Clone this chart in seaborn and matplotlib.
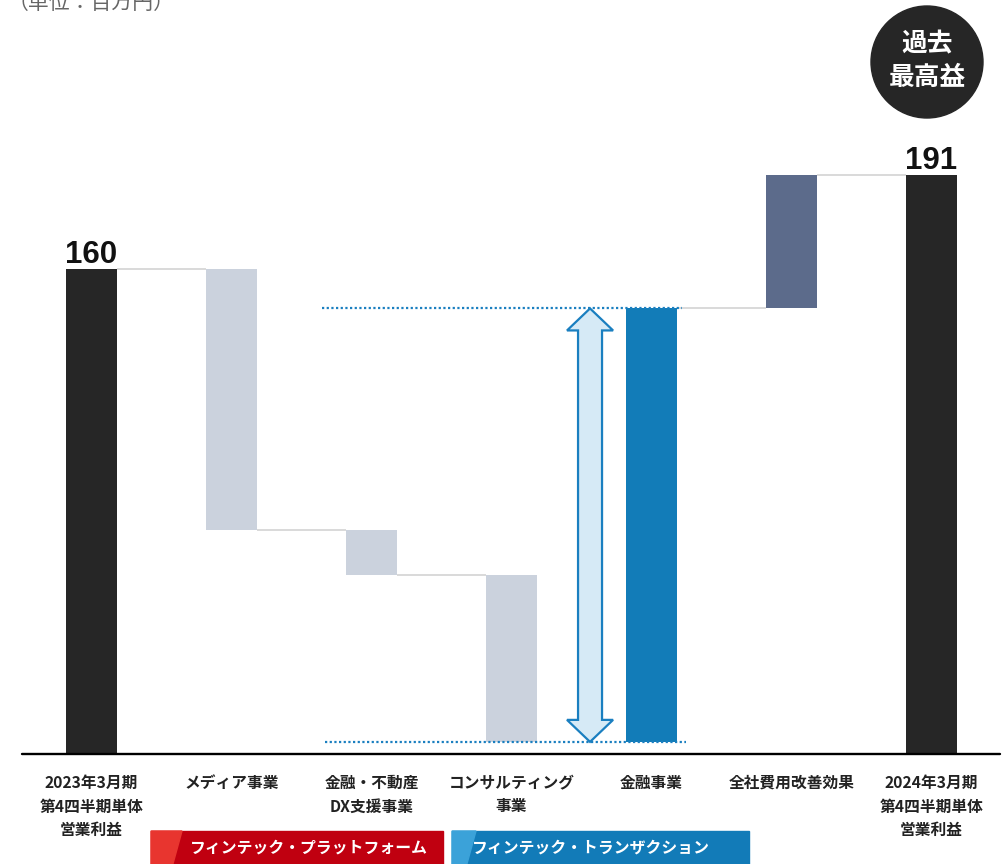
import numpy as np
import pandas as pd
import matplotlib
matplotlib.use("Agg")
import matplotlib.pyplot as plt
import matplotlib.transforms as mtrans
from matplotlib.patches import Polygon, Circle, Rectangle
import seaborn as sns

# ---------------- data ----------------
categories = [
    "2023年3月期\n第4四半期単体\n営業利益",
    "メディア事業",
    "金融・不動産\nDX支援事業",
    "コンサルティング\n事業",
    "金融事業",
    "全社費用改善効果",
    "2024年3月期\n第4四半期単体\n営業利益",
]
values = [160, -86, -15, -55, 143, 44, 191]
kinds = ["total", "delta", "delta", "delta", "delta", "delta", "total"]
bar_colors = ["#262626", "#cbd2dd", "#cbd2dd", "#cbd2dd", "#127cb8", "#5c6b8b", "#262626"]
highlight_idx = 4
unit_label = "（単位：百万円）"
badge_lines = ["過去", "最高益"]
segment_labels = ["フィンテック・プラットフォーム", "フィンテック・トランザクション"]

# ---------------- style ----------------
sns.set_theme(style="white")
plt.rcParams["font.family"] = ["Noto Sans CJK JP", "DejaVu Sans"]

# waterfall geometry from values
bottoms, tops, levels = [], [], []
running = 0
for v, k in zip(values, kinds):
    if k == "total":
        b, t = 0, v
        running = v
    else:
        start, end = running, running + v
        b, t = min(start, end), max(start, end)
        running = end
    bottoms.append(b)
    tops.append(t)
    levels.append(running)
heights = [t - b for t, b in zip(tops, bottoms)]

keys = [f"c{i}" for i in range(len(categories))]
df = pd.DataFrame({"key": keys, "height": heights})

W, H = 1002, 864
fig = plt.figure(figsize=(W / 100, H / 100), dpi=100)

ov = fig.add_axes([0, 0, 1, 1])
ov.set_xlim(0, W)
ov.set_ylim(H, 0)
ov.axis("off")

base_px = 754
px_per_unit = 3.031
ax = fig.add_axes([0, (H - base_px) / H, 1, base_px / H])

bar_w = 51 / 140
sns.barplot(data=df, x="key", y="height", hue="key", order=keys, hue_order=keys,
            palette=bar_colors, saturation=1, width=bar_w, legend=False,
            linewidth=0, ax=ax)
for i, cont in enumerate(ax.containers):
    for p in cont:
        p.set_y(bottoms[i])

ax.set_xlim(-91.5 / 140, (W - 91.5) / 140)
ax.set_ylim(0, base_px / px_per_unit)
ax.axis("off")

# baseline
ax.axhline(0, xmin=22 / W, xmax=1000 / W, color="black", lw=1.7, zorder=6, clip_on=False)

# connectors
for i in range(len(values) - 1):
    if i + 1 == highlight_idx:
        continue
    ax.plot([i + bar_w / 2, i + 1 - bar_w / 2], [levels[i], levels[i]],
            color="#d9d9d9", lw=1.4, zorder=1, solid_capstyle="butt")

# dotted guide lines around highlighted bar
lo = levels[highlight_idx - 1]
hi = levels[highlight_idx]
dot_kw = dict(color="#1a7fc0", lw=1.6, dashes=(1, 1.1), zorder=4, clip_on=False)
ax.plot([highlight_idx - 2.354, highlight_idx + 0.218], [hi, hi], **dot_kw)
ax.plot([highlight_idx - 2.332, highlight_idx + 0.246], [lo, lo], **dot_kw)

# double-headed arrow
ac = highlight_idx - 0.439
hw, sw = 0.1645, 0.0857
hl = 22 / px_per_unit
verts = [(ac, hi), (ac + hw, hi - hl), (ac + sw, hi - hl), (ac + sw, lo + hl),
         (ac + hw, lo + hl), (ac, lo), (ac - hw, lo + hl), (ac - sw, lo + hl),
         (ac - sw, hi - hl), (ac - hw, hi - hl)]
ax.add_patch(Polygon(verts, closed=True, facecolor="#d6eaf6", edgecolor="#1a7fc0",
                     lw=1.6, joinstyle="miter", zorder=5))

# total labels
for i, k in enumerate(kinds):
    if k == "total":
        ax.annotate(f"{values[i]}", (i, tops[i]), xytext=(0, 4.3), textcoords="offset points",
                    ha="center", va="baseline", fontsize=22.5, fontweight="bold",
                    family=["Liberation Sans", "DejaVu Sans"], color="#111111",
                    annotation_clip=False)

# category labels
blend = mtrans.blended_transform_factory(ax.transData, ov.transData)
for i, cat in enumerate(categories):
    for j, line in enumerate(cat.split("\n")):
        ov.text(i, 783 + 23.5 * j, line, transform=blend, ha="center", va="center",
                fontsize=11.3, fontweight="bold", color="#222222")

# unit label (partially cut at top, as in the reference)
ov.text(8, 3, unit_label, ha="left", va="center", fontsize=15, color="#666666")

# badge
ov.add_patch(Circle((927, 62), 56, color="#262626", zorder=3))
ov.text(927, 44, badge_lines[0], ha="center", va="center", fontsize=18.5,
        fontweight="bold", color="white", zorder=4)
ov.text(927, 77, badge_lines[1], ha="center", va="center", fontsize=18.5,
        fontweight="bold", color="white", zorder=4)

# segment boxes
ov.add_patch(Rectangle((151, 831), 292, 40, color="#c00010", zorder=2))
ov.add_patch(Polygon([(151, 831), (182, 831), (171, 871), (151, 871)], closed=True,
                     color="#e8352f", zorder=3))
ov.text(309, 848, segment_labels[0], ha="center", va="center", fontsize=11.4,
        fontweight="bold", color="white", zorder=4)
ov.add_patch(Rectangle((452, 831), 297, 40, color="#127bb8", zorder=2))
ov.add_patch(Polygon([(452, 831), (476, 831), (465, 871), (452, 871)], closed=True,
                     color="#3ba2d9", zorder=3))
ov.text(591, 848, segment_labels[1], ha="center", va="center", fontsize=11.4,
        fontweight="bold", color="white", zorder=4)

fig.savefig("out.png", dpi=100)
